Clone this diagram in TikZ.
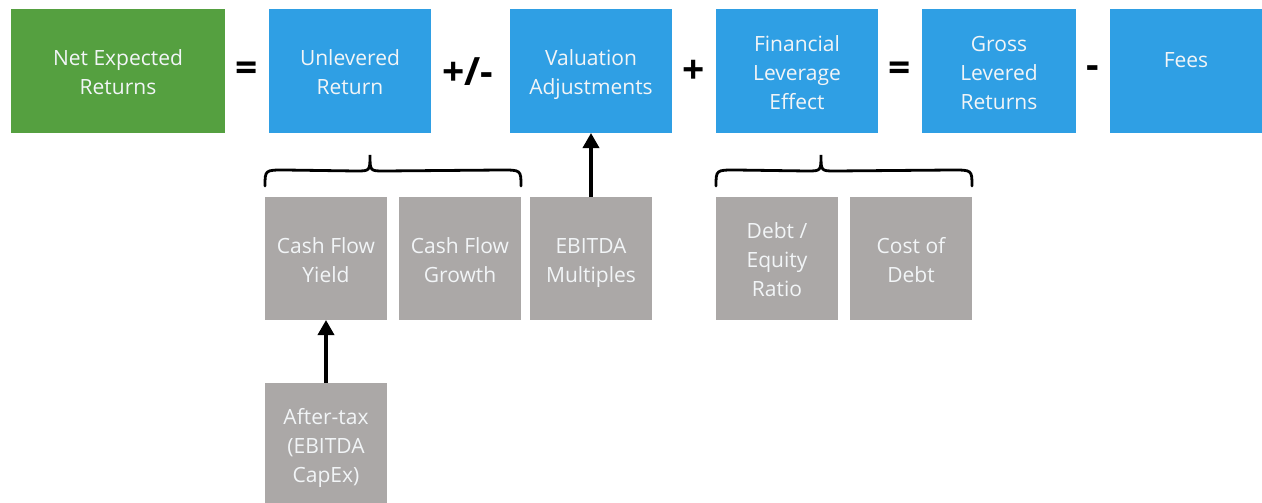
\documentclass[tikz,border=0pt]{standalone}
\usepackage{fontspec}
\setmainfont{Open Sans}
\usetikzlibrary{arrows.meta,calc}
\definecolor{cgreen}{HTML}{55A040}
\definecolor{cblue}{HTML}{2F9FE4}
\definecolor{cgray}{HTML}{ABA8A7}
\definecolor{ctext}{HTML}{F2F5F7}
\newcommand{\boxlines}[1]{\raisebox{-3.5pt}[\height][\depth]{\begin{tabular}{@{}c@{}}#1\end{tabular}}}
\tikzset{
  box/.style={anchor=north west, minimum width=#1, minimum height=124pt, inner sep=0pt, outer sep=0pt,
    text=ctext, font=\fontsize{21}{29}\selectfont},
  greenbox/.style={box=#1, fill=cgreen},
  bluebox/.style={box=#1, fill=cblue},
  graybox/.style={box=#1, fill=cgray, minimum height=123pt},
  op/.style={font=\fontsize{39}{40}\selectfont\bfseries, inner sep=0pt},
  link/.style={line width=3.5pt, -{Triangle[length=15pt,width=16pt]}},
  bracestyle/.style={line width=2.8pt, line cap=round}
}
\begin{document}
\begin{tikzpicture}[x=1pt,y=-1pt]
\useasboundingbox[fill=white] (0,0) rectangle (1262,503);
% top row
\node[greenbox=214pt] (net) at (11,9) {\boxlines{Net Expected\\Returns}};
\node[bluebox=162pt] (unl) at (269,9) {\boxlines{Unlevered\\Return}};
\node[bluebox=162pt] (val) at (510,9) {\boxlines{Valuation\\Adjustments}};
\node[bluebox=162pt] (fin) at (716,9) {\boxlines{Financial\\Leverage\\Effect}};
\node[bluebox=154pt] (gro) at (922,9) {\boxlines{Gross\\Levered\\Returns}};
\node[bluebox=152pt] (fees) at (1110,9) {};
\node[text=ctext, font=\fontsize{21}{29}\selectfont, inner sep=0pt] (feestxt) at ($(fees.center)+(0,-11)$) {Fees};
% operators
\node[op] (op1) at (247,72) {=};
\node[op] (op2) at (468,72) {+/-};
\node[op] (op3) at (694,72) {+};
\node[op] (op4) at (900,72) {=};
\node[op] (op5) at (1093,72) {-};
% gray boxes
\node[graybox=122pt] (cfy) at (265,197) {\boxlines{Cash Flow\\Yield}};
\node[graybox=122pt] (cfg) at (399,197) {\boxlines{Cash Flow\\Growth}};
\node[graybox=122pt] (ebm) at (530,197) {\boxlines{EBITDA\\Multiples}};
\node[graybox=122pt] (der) at (716,197) {\boxlines{Debt /\\Equity\\Ratio}};
\node[graybox=122pt] (cod) at (850,197) {\boxlines{Cost of\\Debt}};
\node[graybox=122pt] (atx) at (265,383) {\boxlines{After-tax\\(EBITDA\\CapEx)}};
% arrows
\draw[link] (atx.north) -- (cfy.south);
\draw[link] (ebm.north) -- (ebm.north |- val.south);
% braces
\coordinate (b1l) at ($(cfy.north west)+(0,-11)$);
\coordinate (b1r) at ($(cfg.north east)+(0,-11)$);
\coordinate (b1t) at ($(unl.south)+(20,22)$);
\draw[bracestyle] (b1l) .. controls ($(b1l)+(0,-16)$) .. ($(b1l)+(20,-16)$)
  -- ($(b1t)+(-14,16)$) .. controls ($(b1t)+(0,16)$) .. (b1t)
  .. controls ($(b1t)+(0,16)$) .. ($(b1t)+(14,16)$)
  -- ($(b1r)+(-20,-16)$) .. controls ($(b1r)+(0,-16)$) .. (b1r);
\coordinate (b2l) at ($(der.north west)+(0,-11)$);
\coordinate (b2r) at ($(cod.north east)+(0,-11)$);
\coordinate (b2t) at ($(fin.south)+(24,22)$);
\draw[bracestyle] (b2l) .. controls ($(b2l)+(0,-16)$) .. ($(b2l)+(20,-16)$)
  -- ($(b2t)+(-14,16)$) .. controls ($(b2t)+(0,16)$) .. (b2t)
  .. controls ($(b2t)+(0,16)$) .. ($(b2t)+(14,16)$)
  -- ($(b2r)+(-20,-16)$) .. controls ($(b2r)+(0,-16)$) .. (b2r);
\end{tikzpicture}
\end{document}
